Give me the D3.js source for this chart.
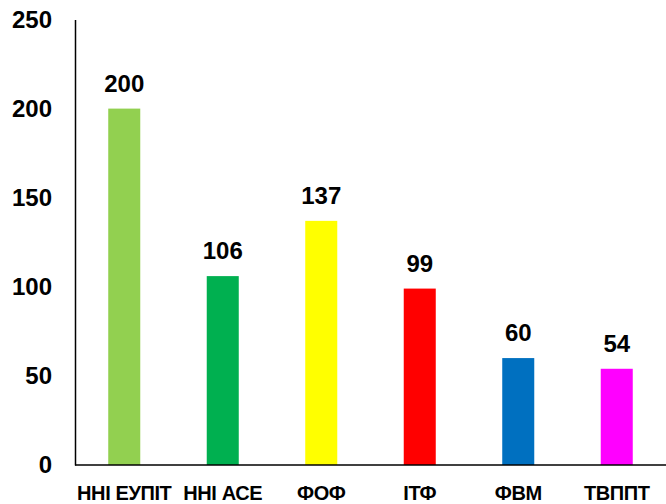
<!DOCTYPE html>
<html>
<head>
<meta charset="utf-8">
<script src="https://cdn.jsdelivr.net/npm/d3@7"></script>
<style>
  body { margin: 0; background: #fff; }
  svg { display: block; font-family: "Liberation Sans", Arial, sans-serif; }
</style>
</head>
<body>
<div class="chart"></div>
<script>
// categories and values
const categories = ["ННІ ЕУПІТ", "ННІ АСЕ", "ФОФ", "ІТФ", "ФВМ", "ТВППТ"]
const values = [200, 106, 137, 99, 60, 54]
const colors = ["#92d050", "#00b050", "#ffff00", "#ff0000", "#0070c0", "#ff00ff"]
const yTicks = [0, 50, 100, 150, 200, 250]

const width = 666
const height = 504
const origin = { x: 75, y: 465 }
const plotTop = 19.5

const svg = d3.select(".chart").append("svg")
  .attr("width", width)
  .attr("height", height)

// scales
const scaleX = d3.scaleBand()
  .domain(categories)
  .range([origin.x, width])
  .paddingInner(0.675)
  .paddingOuter(0.3375)

const scaleY = d3.scaleLinear()
  .domain([0, 250])
  .range([origin.y, plotTop])

// bars
svg.append("g")
  .selectAll("rect")
  .data(values)
  .join("rect")
  .attr("x", (d, i) => scaleX(categories[i]))
  .attr("y", d => scaleY(d))
  .attr("width", scaleX.bandwidth())
  .attr("height", d => scaleY(0) - scaleY(d))
  .attr("fill", (d, i) => colors[i])

// value labels
svg.append("g")
  .selectAll("text")
  .data(values)
  .join("text")
  .attr("x", (d, i) => scaleX(categories[i]) + scaleX.bandwidth() / 2)
  .attr("y", d => scaleY(d) - 17)
  .attr("text-anchor", "middle")
  .attr("font-size", 24)
  .attr("font-weight", "bold")
  .text(d => d)

// y axis
const yAxis = svg.append("g")
  .attr("transform", `translate(${origin.x},0)`)
  .call(d3.axisLeft(scaleY).tickValues(yTicks).tickSize(0).tickPadding(23))
yAxis.select(".domain").attr("stroke", "#000").attr("stroke-width", 1.5)
yAxis.selectAll("text")
  .attr("font-size", 24)
  .attr("font-weight", "bold")
  .attr("font-family", "Liberation Sans, Arial, sans-serif")
  .attr("fill", "#000")

// x axis
const xAxis = svg.append("g")
  .attr("transform", `translate(0,${origin.y})`)
  .call(d3.axisBottom(scaleX).tickSize(0).tickPadding(21))
xAxis.select(".domain")
  .attr("d", `M${origin.x},0H${width}`)
  .attr("stroke", "#000").attr("stroke-width", 1.5)
xAxis.selectAll("text")
  .attr("font-size", 20)
  .attr("font-weight", "bold")
  .attr("letter-spacing", -0.4)
  .attr("font-family", "Liberation Sans, Arial, sans-serif")
  .attr("fill", "#000")
</script>
</body>
</html>
